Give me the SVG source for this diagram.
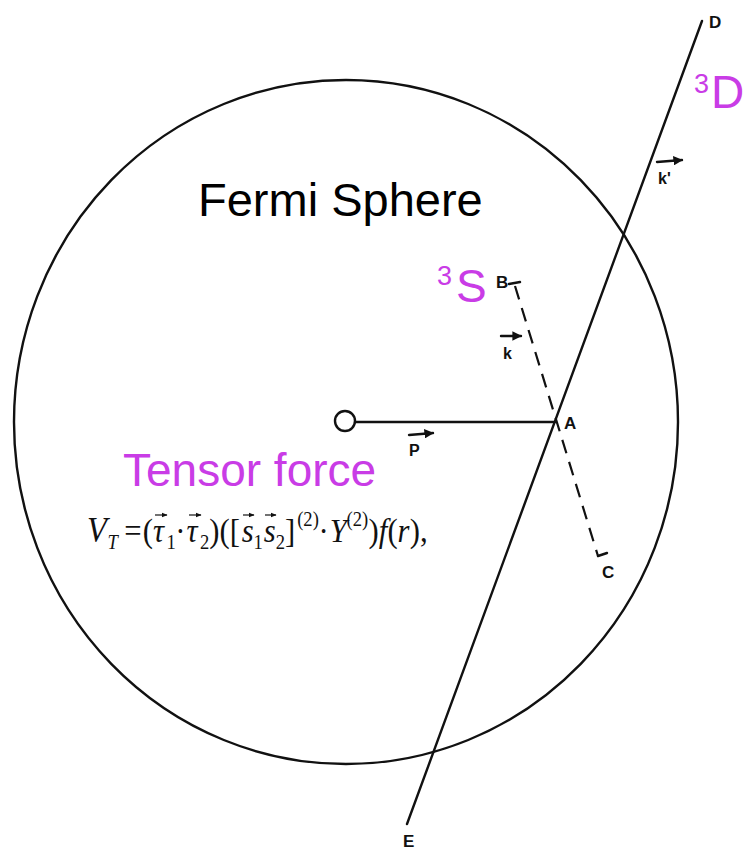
<svg xmlns="http://www.w3.org/2000/svg" width="746" height="852" viewBox="0 0 746 852">
<style>
.ln{stroke:#111;stroke-width:2.4;fill:none;stroke-linecap:round}
.dash{stroke:#111;stroke-width:2.2;fill:none;stroke-dasharray:14 9}
.va{stroke:#111;stroke-width:1.2;fill:none}
.pt{font-family:"Liberation Sans",Arial,sans-serif;font-size:17px;font-weight:bold;fill:#111}
.vec{font-family:"Liberation Sans",Arial,sans-serif;font-size:16px;font-weight:bold;fill:#111}
.big{font-family:"Liberation Sans",Arial,sans-serif;fill:#000}
.pur{font-family:"Liberation Sans",Arial,sans-serif;fill:#c93ce6}
.m{font-family:"Liberation Serif","Times New Roman",serif;fill:#111}
.it{font-style:italic}
.sb{font-size:20px}
</style>
<defs>
<marker id="ah" viewBox="0 0 10 10" refX="9" refY="5" markerWidth="4" markerHeight="4" orient="auto"><path d="M0,0 L10,5 L0,10 z" fill="#111"/></marker>
<marker id="sa" viewBox="0 0 10 10" refX="9" refY="5" markerWidth="5" markerHeight="5" orient="auto"><path d="M0,1 L10,5 L0,9 z" fill="#111"/></marker>
</defs>
<rect width="746" height="852" fill="#fff"/>
<g id="fermi-sphere">
<ellipse cx="346" cy="422" rx="332" ry="342" class="ln"/>
<text x="198" y="216" class="big" font-size="47">Fermi Sphere</text>
</g>
<g id="connectors">
<line x1="702" y1="21" x2="407" y2="824" class="ln"/>
<line x1="355" y1="422" x2="555" y2="422" class="ln"/>
<line x1="515" y1="286" x2="598" y2="556" class="dash"/>
<line x1="509" y1="284" x2="520" y2="282" class="ln" stroke-width="2"/>
<line x1="598" y1="556" x2="607" y2="553" class="ln" stroke-width="2"/>
</g>
<g id="origin"><circle cx="345" cy="421" r="10" class="ln"/></g>
<g id="vec-p">
<line x1="409" y1="435" x2="433" y2="433" class="ln" stroke-width="2" marker-end="url(#ah)"/>
<text x="409" y="456" class="vec">P</text>
</g>
<g id="vec-k">
<line x1="501" y1="336" x2="521" y2="336" class="ln" stroke-width="2" marker-end="url(#ah)"/>
<text x="503" y="359" class="vec">k</text>
</g>
<g id="vec-kp">
<line x1="657" y1="162" x2="682" y2="160" class="ln" stroke-width="2" marker-end="url(#ah)"/>
<text x="658" y="184" class="vec">k'</text>
</g>
<g id="point-A"><text x="564" y="429" class="pt">A</text></g>
<g id="point-B"><text x="496" y="288" class="pt">B</text></g>
<g id="point-C"><text x="602" y="578" class="pt">C</text></g>
<g id="point-D"><text x="709" y="28" class="pt">D</text></g>
<g id="point-E"><text x="403" y="847" class="pt">E</text></g>
<g id="label-3D">
<text x="694" y="93" class="pur" font-size="27">3</text>
<text x="711" y="108" class="pur" font-size="46">D</text>
</g>
<g id="label-3S">
<text x="437" y="285" class="pur" font-size="27">3</text>
<text x="456" y="302" class="pur" font-size="46">S</text>
</g>
<g id="tensor-force">
<text x="123" y="486" class="pur" font-size="46">Tensor force</text>
<g transform="translate(87,0) scale(0.93,1)">
<text class="m" font-size="33"><tspan x="0" y="542" class="it" font-size="35">V</tspan><tspan x="22" y="549" class="it sb">T</tspan><tspan x="40" y="542">=</tspan><tspan x="60" y="542">(</tspan><tspan x="71" y="542" class="it">τ</tspan><tspan x="85.5" y="549" class="sb">1</tspan><tspan x="95" y="542">·</tspan><tspan x="107" y="542" class="it">τ</tspan><tspan x="121.5" y="549" class="sb">2</tspan><tspan x="131.5" y="542">)</tspan><tspan x="142.5" y="542">(</tspan><tspan x="153.5" y="542">[</tspan><tspan x="166.3" y="542" class="it">s</tspan><tspan x="179" y="549" class="sb">1</tspan><tspan x="190" y="542" class="it">s</tspan><tspan x="203" y="549" class="sb">2</tspan><tspan x="213" y="542">]</tspan><tspan x="226" y="526" class="sb">(2)</tspan><tspan x="249" y="542">·</tspan><tspan x="261" y="542" class="it">Y</tspan><tspan x="279" y="526" class="sb">(2)</tspan><tspan x="302.6" y="542">)</tspan><tspan x="313.6" y="542" class="it">f</tspan><tspan x="323" y="542">(</tspan><tspan x="334" y="542" class="it">r</tspan><tspan x="347" y="542">)</tspan><tspan x="358" y="542">,</tspan></text>
</g>
<g id="formula-vector-arrows">
<line x1="155" y1="515" x2="167" y2="515" class="va" marker-end="url(#sa)"/>
<line x1="189" y1="515" x2="201" y2="515" class="va" marker-end="url(#sa)"/>
<line x1="243" y1="515" x2="254" y2="515" class="va" marker-end="url(#sa)"/>
<line x1="265" y1="515" x2="276" y2="515" class="va" marker-end="url(#sa)"/>
</g>
</g>
</svg>
